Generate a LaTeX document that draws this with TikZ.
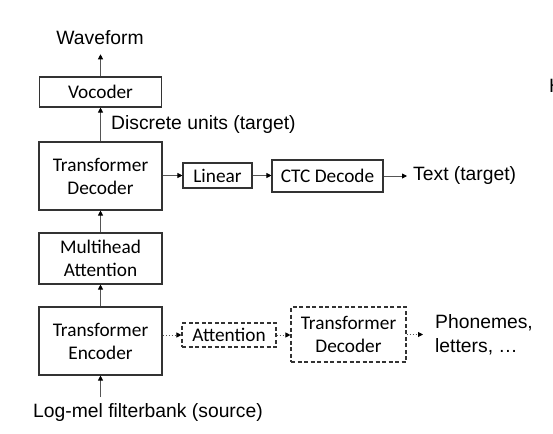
\documentclass[tikz,border=0pt]{standalone}
\usepackage{fontspec}
\setmainfont{Liberation Sans}
\newfontfamily\calfont{Carlito}
\usetikzlibrary{arrows.meta}
\definecolor{linegray}{HTML}{555555}
\definecolor{boxgray}{HTML}{333333}
\tikzset{
  blk/.style={draw=boxgray, line width=1.1pt, align=center, inner sep=0pt,
    font=\calfont\fontsize{19.3}{23}\selectfont},
  dblk/.style={blk, dash pattern=on 4pt off 2.5pt},
  lbl/.style={inner sep=0pt, font=\fontsize{19.3}{24}\selectfont},
  arr/.style={draw=linegray, line width=0.9pt, -{Triangle[length=5pt,width=5pt,fill=black,color=black]}},
  darr/.style={arr, dash pattern=on 1.5pt off 1.5pt}
}
\begin{document}
\begin{tikzpicture}[x=1pt,y=-1pt]
\useasboundingbox (0,0) rectangle (553,433);
\node[blk, minimum width=122pt, minimum height=30pt] (voc) at (100.5,92) {Vocoder};
\node[blk, minimum width=123pt, minimum height=68pt] (dec) at (100.5,176) {Transformer\\Decoder};
\node[blk, minimum width=123pt, minimum height=51pt] (mha) at (100.5,258.5) {Multihead\\Attention};
\node[blk, minimum width=123pt, minimum height=68pt] (enc) at (100.5,341) {Transformer\\Encoder};
\node[blk, minimum width=69pt, minimum height=25pt] (lin) at (217.5,175.5) {Linear};
\node[blk, minimum width=111pt, minimum height=32pt] (ctc) at (327.5,176) {CTC Decode};
\node[dblk, minimum width=94pt, minimum height=24pt] (att) at (229,335) {Attention};
\node[dblk, minimum width=115pt, minimum height=55pt] (tdec) at (348.5,334.5) {Transformer\\Decoder};

\node[lbl] (wave) at (100,38) {Waveform};
\node[lbl, anchor=west] (units) at (111,125) {Discrete units (target)};
\node[lbl, anchor=west] (text) at (413,176) {Text (target)};
\node[lbl, anchor=west, align=left] (phon) at (435,335) {Phonemes,\\letters, \dots};
\node[lbl] (src) at (148,413) {Log-mel filterbank (source)};
\node[lbl, anchor=west] (stray) at (549,86) {H};
\coordinate (srcin) at (100.5,397);

\draw[arr, shorten >=9pt] (voc.north) -- (voc.north |- wave.south);
\draw[arr] (dec.north) -- (voc.south);
\draw[arr] (mha.north) -- (dec.south);
\draw[arr] (enc.north) -- (mha.south);
\draw[arr] (srcin) -- (enc.south);
\draw[arr] (dec.east |- lin.west) -- (lin.west);
\draw[arr] (lin.east) -- (lin.east -| ctc.west);
\draw[arr, shorten >=6pt] (ctc.east) -- (ctc.east -| text.west);
\draw[darr] (enc.east |- att.west) -- (att.west);
\draw[darr] (att.east) -- (att.east -| tdec.west);
\draw[darr, shorten >=12pt] (tdec.east) -- (tdec.east -| phon.west);
\end{tikzpicture}
\end{document}
